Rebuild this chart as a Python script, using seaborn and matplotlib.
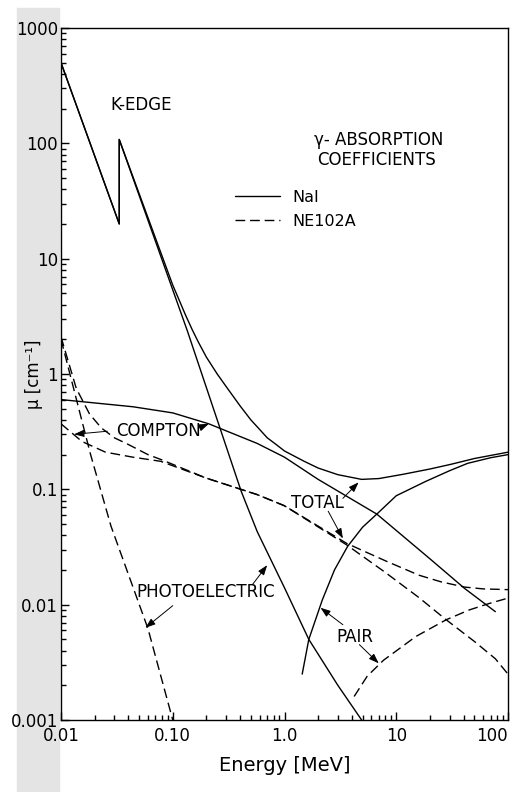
import matplotlib
matplotlib.use("Agg")
import matplotlib.pyplot as plt
from matplotlib.patches import Rectangle
from matplotlib.ticker import NullFormatter
import seaborn as sns

# --- DATA ---
# NaI, solid lines
nai_total_e = [0.01, 0.0332, 0.0332, 0.1, 0.115, 0.13, 0.15, 0.17, 0.2, 0.25, 0.3, 0.4, 0.5, 0.6, 0.7, 0.85,
               1.0, 1.5, 2.0, 3.0, 4.9, 7.0, 11.5, 20, 31, 50, 100]
nai_total_mu = [500, 20, 108, 5.9, 4.3, 3.25, 2.4, 1.88, 1.4, 1.0, 0.78, 0.53, 0.40, 0.33, 0.28, 0.243,
                0.215, 0.175, 0.153, 0.134, 0.122, 0.124, 0.135, 0.15, 0.165, 0.185, 0.21]

nai_photo_e = [0.01, 0.0332, 0.0332, 0.135, 0.41, 0.57, 1.0, 1.65, 3.0, 4.9]
nai_photo_mu = [500, 20, 108, 2.37, 0.096, 0.043, 0.014, 0.005, 0.002, 0.001]

nai_compton_e = [0.01, 0.044, 0.1, 0.21, 0.57, 1.0, 2.0, 6.7, 20, 41, 77]
nai_compton_mu = [0.6, 0.52, 0.46, 0.37, 0.25, 0.19, 0.122, 0.061, 0.025, 0.0138, 0.0087]

nai_pair_e = [1.44, 1.65, 2.18, 2.8, 3.67, 5.0, 6.7, 10, 18.3, 30, 43.5, 70, 100]
nai_pair_mu = [0.0025, 0.005, 0.011, 0.02, 0.032, 0.047, 0.061, 0.088, 0.117, 0.145, 0.168, 0.188, 0.2]

# NE102A, dashed lines
ne_total_e = [0.01, 0.0137, 0.018, 0.023, 0.03, 0.04, 0.06, 0.08, 0.2, 0.57, 1.0, 3.6, 8, 16, 25, 41, 60, 100]
ne_total_mu = [2.1, 0.75, 0.45, 0.34, 0.28, 0.245, 0.2, 0.18, 0.125, 0.09, 0.072, 0.034, 0.024, 0.018, 0.0158, 0.0142, 0.0137, 0.0135]

ne_photo_e = [0.01, 0.0184, 0.028, 0.06, 0.1]
ne_photo_mu = [2.0, 0.2, 0.048, 0.0062, 0.001]

ne_compton_e = [0.01, 0.0154, 0.025, 0.044, 0.078, 0.2, 0.57, 1.0, 3.6, 8, 16, 27, 50, 77, 100]
ne_compton_mu = [0.37, 0.26, 0.21, 0.19, 0.175, 0.125, 0.09, 0.072, 0.033, 0.019, 0.0115, 0.0076, 0.0048, 0.0034, 0.0025]

ne_pair_e = [4.2, 5.5, 7.7, 15, 28, 45, 67, 100]
ne_pair_mu = [0.0016, 0.0024, 0.0033, 0.0053, 0.0074, 0.009, 0.0102, 0.0114]

x_ticks = [0.01, 0.1, 1, 10, 100]
x_labels = ["0.01", "0.10", "1.0", "10", "100"]
y_ticks = [0.001, 0.01, 0.1, 1, 10, 100, 1000]
y_labels = ["0.001", "0.01", "0.1", "1", "10", "100", "1000"]

# --- PLOT ---
sns.set_theme(style="white")
plt.rcParams['font.family'] = ['DejaVu Sans']
plt.rcParams['text.color'] = 'black'

fig = plt.figure(figsize=(5.15, 7.92), dpi=100)
# speckled scan margin on the left
fig.patches.append(Rectangle((17 / 515, 0), 42 / 515, 1 - 8 / 792,
                             transform=fig.transFigure, color="#e4e4e4", zorder=-5))
ax = fig.add_axes([61 / 515, 1 - 720 / 792, 447 / 515, 692 / 792])
ax.set_xscale("log")
ax.set_yscale("log")

solid = "-"
dashed = (0, (7, 3.5))
series = [
    (nai_total_e, nai_total_mu, solid, "NaI"),
    (nai_photo_e, nai_photo_mu, solid, None),
    (nai_compton_e, nai_compton_mu, solid, None),
    (nai_pair_e, nai_pair_mu, solid, None),
    (ne_total_e, ne_total_mu, dashed, "NE102A"),
    (ne_photo_e, ne_photo_mu, dashed, None),
    (ne_compton_e, ne_compton_mu, dashed, None),
    (ne_pair_e, ne_pair_mu, dashed, None),
]
for e, mu, ls, lab in series:
    sns.lineplot(x=e, y=mu, ax=ax, color="black", linewidth=1.0, linestyle=ls,
                 estimator=None, sort=False, label=lab)

ax.set_xlim(0.01, 100)
ax.set_ylim(0.001, 1000)
ax.set_xticks(x_ticks)
ax.set_xticklabels(x_labels)
ax.set_yticks(y_ticks)
ax.set_yticklabels(y_labels)
ax.xaxis.set_minor_formatter(NullFormatter())
ax.yaxis.set_minor_formatter(NullFormatter())
ax.tick_params(which="both", direction="in", bottom=True, left=True, top=False, right=False,
               color="black", width=1.0)
ax.tick_params(which="major", length=6)
ax.tick_params(which="minor", length=3.5)
ax.tick_params(axis="y", labelsize=12, pad=2, colors="black")
ax.tick_params(axis="x", labelsize=12, pad=5, colors="black")
ax.get_xticklabels()[-1].set_horizontalalignment("right")
for s in ax.spines.values():
    s.set_color("black")
    s.set_linewidth(1.0)

ax.set_xlabel("Energy [MeV]", fontsize=14, color="black", labelpad=8)
ax.set_ylabel("μ [cm⁻¹]", fontsize=12, color="black")
ax.yaxis.set_label_coords(-0.04, 0.5)

leg = ax.legend(loc="upper left", bbox_to_anchor=(0.389, 0.766), frameon=False,
                fontsize=11.5, handlelength=2.8, handletextpad=0.8, labelspacing=0.55,
                borderpad=0, borderaxespad=0)
for t in leg.get_texts():
    t.set_color("black")

# --- ANNOTATIONS ---
fs = 12
arrow = dict(arrowstyle="-|>,head_length=0.5,head_width=0.18", color="black", lw=0.7,
             shrinkA=0, shrinkB=0)

ax.text(0.0275, 214, "K-EDGE", fontsize=fs, ha="left", va="center")
ax.text(1.85, 106, "γ- ABSORPTION", fontsize=fs, ha="left", va="center")
ax.text(1.95, 71, "COEFFICIENTS", fontsize=fs, ha="left", va="center")

ax.text(0.0747, 0.319, "COMPTON", fontsize=fs, ha="center", va="center")
ax.annotate("", xy=(0.0131, 0.30), xytext=(0.026, 0.319), arrowprops=arrow)
ax.annotate("", xy=(0.21, 0.37), xytext=(0.175, 0.343), arrowprops=arrow)

ax.text(1.98, 0.0755, "TOTAL", fontsize=fs, ha="center", va="center")
ax.annotate("", xy=(4.6, 0.115), xytext=(3.33, 0.0835), arrowprops=arrow)
ax.annotate("", xy=(3.33, 0.0375), xytext=(2.46, 0.0646), arrowprops=arrow)

ax.text(0.197, 0.013, "PHOTOELECTRIC", fontsize=fs, ha="center", va="center")
ax.annotate("", xy=(0.0569, 0.0063), xytext=(0.1, 0.0098), arrowprops=arrow)
ax.annotate("", xy=(0.70, 0.022), xytext=(0.516, 0.0149), arrowprops=arrow)

ax.text(4.23, 0.00527, "PAIR", fontsize=fs, ha="center", va="center")
ax.annotate("", xy=(2.1, 0.0094), xytext=(3.33, 0.0067), arrowprops=arrow)
ax.annotate("", xy=(6.97, 0.0031), xytext=(4.68, 0.0045), arrowprops=arrow)

fig.savefig("out.png", dpi=100)
